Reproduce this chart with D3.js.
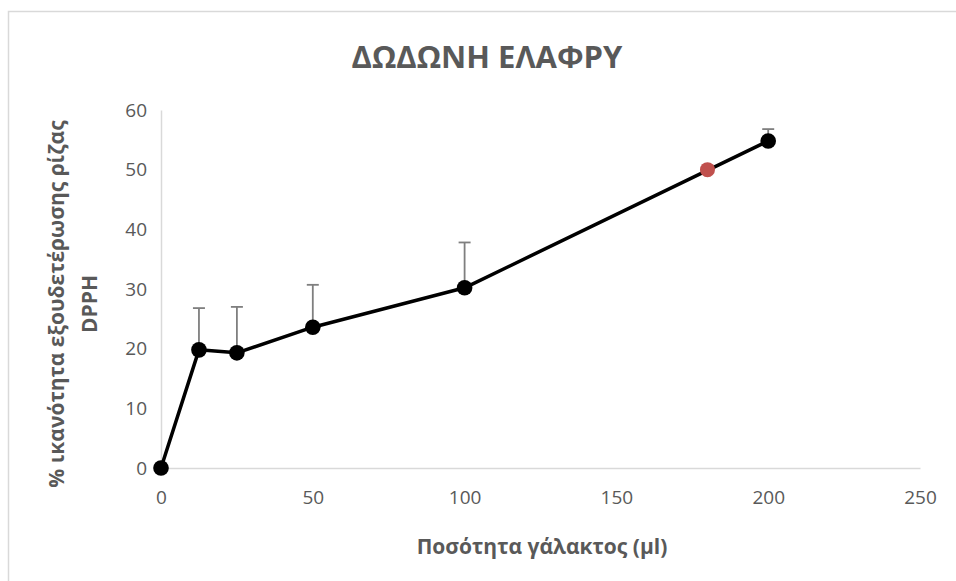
<!DOCTYPE html>
<html>
<head>
<meta charset="utf-8">
<script src="https://cdn.jsdelivr.net/npm/d3@7"></script>
<style>
  body { margin: 0; background: #fff; }
  text { font-family: "Open Sans", sans-serif; fill: #595959; }
</style>
</head>
<body>
<script>
// data
let doses = [0, 12.5, 25, 50, 100, 200]
let activity = [0, 19.8, 19.3, 23.6, 30.2, 54.8]
let errUp = [0, 7.0, 7.7, 7.1, 7.6, 2.0]
let ic50Dose = [180]
let ic50Value = [50]
let xTicks = [0, 50, 100, 150, 200, 250]
let yTicks = [0, 10, 20, 30, 40, 50, 60]

let w = 956
let h = 581

let svg = d3.select("body").append("svg")
  .attr("width", w)
  .attr("height", h)

// chart frame
svg.append("rect")
  .attr("x", 8.5)
  .attr("y", 11.5)
  .attr("width", w)
  .attr("height", h)
  .attr("fill", "none")
  .attr("stroke", "#d9d9d9")
  .attr("stroke-width", 1.5)

let xScale = d3.scaleLinear().domain([0, 250]).range([161, 920])
let yScale = d3.scaleLinear().domain([0, 60]).range([468, 110])

// axes
let xAxis = d3.axisBottom(xScale).tickValues(xTicks).tickSize(0).tickPadding(23)
let gx = svg.append("g")
  .attr("transform", "translate(0," + yScale(0) + ")")
  .call(xAxis)
gx.select(".domain").attr("stroke", "#d9d9d9").attr("stroke-width", 1.5)
gx.selectAll("text").style("font-size", "19px").attr("fill", "#595959")

let yAxis = d3.axisLeft(yScale).tickValues(yTicks).tickSize(0).tickPadding(14)
let gy = svg.append("g")
  .attr("transform", "translate(" + xScale(0) + ",0)")
  .call(yAxis)
gy.select(".domain").attr("stroke", "#d9d9d9").attr("stroke-width", 1.5)
gy.selectAll("text").style("font-size", "19px").attr("fill", "#595959")

// error bars (plus only)
let pts = doses.map((d, i) => ({x: d, y: activity[i], e: errUp[i]}))
let eb = svg.append("g")
pts.filter(p => p.e > 0).forEach(p => {
  eb.append("line")
    .attr("x1", xScale(p.x)).attr("x2", xScale(p.x))
    .attr("y1", yScale(p.y)).attr("y2", yScale(p.y + p.e))
    .attr("stroke", "#7f7f7f").attr("stroke-width", 1.8)
  eb.append("line")
    .attr("x1", xScale(p.x) - 6).attr("x2", xScale(p.x) + 6)
    .attr("y1", yScale(p.y + p.e)).attr("y2", yScale(p.y + p.e))
    .attr("stroke", "#7f7f7f").attr("stroke-width", 1.8)
})

// line
let line = d3.line().x(p => xScale(p.x)).y(p => yScale(p.y))
svg.append("path")
  .datum(pts)
  .attr("d", line)
  .attr("fill", "none")
  .attr("stroke", "#000")
  .attr("stroke-width", 3.5)
  .attr("stroke-linejoin", "round")

svg.selectAll(".dot")
  .data(pts)
  .enter()
  .append("circle")
  .attr("class", "dot")
  .attr("cx", p => xScale(p.x))
  .attr("cy", p => yScale(p.y))
  .attr("r", 7.8)
  .attr("fill", "#000")

// IC50 point
svg.selectAll(".ic")
  .data(ic50Dose)
  .enter()
  .append("circle")
  .attr("class", "ic")
  .attr("cx", d => xScale(d))
  .attr("cy", (d, i) => yScale(ic50Value[i]))
  .attr("r", 7.5)
  .attr("fill", "#c0504d")

// titles
svg.append("text")
  .text("ΔΩΔΩΝΗ ΕΛΑΦΡΥ")
  .attr("x", 487)
  .attr("y", 68)
  .attr("text-anchor", "middle")
  .style("font-size", "31px")
  .style("font-weight", "bold")

svg.append("text")
  .text("Ποσότητα γάλακτος (μl)")
  .attr("x", 542)
  .attr("y", 554)
  .attr("text-anchor", "middle")
  .style("font-size", "21px")
  .style("font-weight", "bold")

let yt = svg.append("text")
  .attr("transform", "rotate(-90)")
  .attr("text-anchor", "middle")
  .style("font-size", "21px")
  .style("font-weight", "bold")
yt.append("tspan").text("% ικανότητα εξουδετέρωσης ρίζας")
  .attr("x", -304).attr("y", 64)
yt.append("tspan").text("DPPH")
  .attr("x", -304).attr("y", 97)
</script>
</body>
</html>
